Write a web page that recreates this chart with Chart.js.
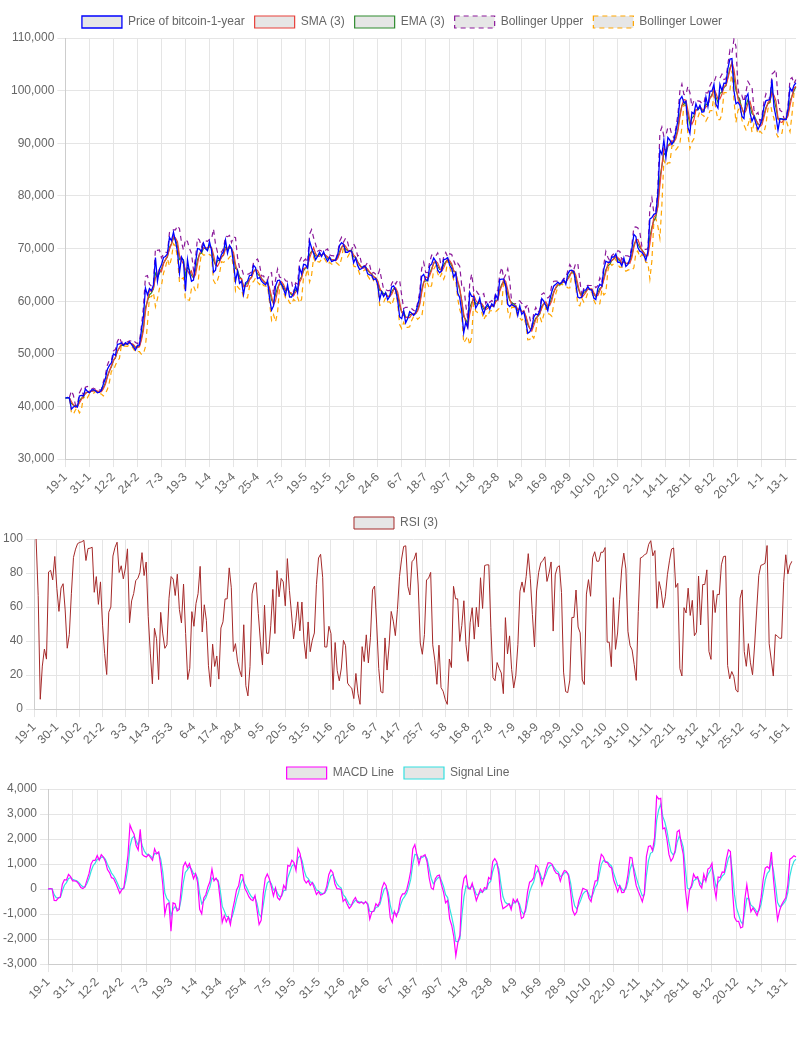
<!DOCTYPE html>
<html><head><meta charset="utf-8">
<script src="https://cdn.jsdelivr.net/npm/chart.js@4/dist/chart.umd.min.js"></script>
<style>body{margin:0;background:#fff;font-family:"Helvetica Neue",Arial,sans-serif}
.c{position:relative;width:810px}</style></head><body>
<div class="c" style="height:505px"><canvas id="a"></canvas></div>
<div class="c" style="height:250px"><canvas id="b"></canvas></div>
<div class="c" style="height:255px"><canvas id="m"></canvas></div>
<script>
const startDate = [2024, 0, 19];
// daily close, thousands USD
const price = [
41.6,41.7,41.6,39.5,39.9,40.1,39.9,42.0,42.1,42.0,43.3,42.9,42.6,
43.1,43.2,43.0,42.6,42.7,43.1,44.3,45.3,47.1,47.8,48.3,50.0,49.7,51.8,51.9,52.1,51.6,52.1,51.8,52.3,51.8,51.3,50.7,51.6,51.7,54.5,57.1,62.5,61.2,
62.4,62.0,63.1,68.3,63.8,66.1,66.9,68.3,68.5,69.0,72.1,71.5,73.1,71.4,69.4,65.3,68.4,67.6,61.9,67.9,65.5,63.8,64.0,67.2,70.0,69.9,69.4,71.0,70.0,69.6,71.3,
69.7,65.5,65.9,68.5,67.8,68.9,69.4,71.6,69.1,70.6,70.0,67.2,63.8,65.7,63.4,63.8,61.3,63.5,63.8,64.9,64.9,66.8,66.4,64.3,64.5,63.8,63.4,63.1,63.8,60.6,
58.3,59.1,62.9,63.9,64.0,63.2,62.3,61.2,63.1,60.8,60.8,61.5,62.9,61.6,66.3,65.2,67.0,66.9,66.3,71.4,70.1,69.1,67.9,68.5,69.3,68.5,69.4,68.3,67.6,68.4,67.5,
67.7,67.8,68.8,70.6,71.1,70.8,69.3,69.3,69.6,69.5,67.3,68.2,66.8,66.0,66.2,66.6,66.5,65.2,65.0,64.9,64.1,64.3,63.2,60.3,61.8,60.9,61.6,60.3,60.9,62.7,
62.9,62.1,60.2,57.0,56.7,58.2,55.9,56.7,58.0,57.7,57.3,57.9,59.2,60.8,64.7,65.1,64.1,63.9,66.7,67.1,68.2,67.6,65.9,65.4,65.8,67.9,68.0,68.3,66.8,66.2,64.6,
65.4,61.5,60.7,58.1,54.0,56.0,55.0,61.7,60.9,60.9,58.7,59.4,60.6,58.7,57.6,58.9,59.5,58.5,59.5,59.0,61.2,60.4,64.1,64.2,64.2,62.8,59.4,59.0,59.4,59.1,58.9,
57.3,59.1,57.5,58.0,56.2,53.9,54.2,54.9,57.0,57.6,57.4,58.1,60.5,60.0,59.2,58.2,60.3,61.8,62.9,63.2,63.6,63.3,63.6,64.1,63.2,65.2,65.8,65.9,65.6,63.3,
60.8,60.6,60.8,62.1,62.1,62.8,62.2,62.1,60.6,60.3,62.4,63.2,62.9,66.1,67.6,67.4,67.4,68.4,68.4,69.0,67.4,67.4,66.7,68.2,66.6,67.0,68.0,69.9,72.7,72.3,70.2,
69.5,69.3,68.7,67.8,69.4,75.6,75.9,76.5,76.7,80.5,88.7,87.9,90.6,87.3,91.1,90.6,89.8,90.5,92.3,94.3,98.3,98.9,97.7,98.0,93.0,91.9,95.9,95.6,97.5,96.4,
97.2,95.9,96.0,98.8,97.0,99.9,99.9,101.2,97.4,96.7,101.2,100.0,101.4,101.4,104.3,106.0,106.1,100.0,97.5,97.8,97.2,95.1,94.7,98.7,99.4,95.8,94.2,95.1,93.7,92.6,93.4,
94.6,96.9,98.1,98.2,98.3,102.1,96.9,95.0,92.5,94.7,94.6,94.5,94.5,96.5,100.5,99.9,101.0,101.5
].map(v=>v*1000);

// label dates as they appear (shifted by one day during summer time)
const dstStart = new Date(2024,2,31), dstEnd = new Date(2024,9,27);
const labels = price.map((_,i)=>{let d=new Date(startDate[0],startDate[1],startDate[2]+i);
  if(d>=dstStart && d<dstEnd) d=new Date(d.getFullYear(),d.getMonth(),d.getDate()+1);
  return d.getDate()+'-'+(d.getMonth()+1);});

const N=3;
const sma = price.map((_,i)=>i<N-1?null:price.slice(i-N+1,i+1).reduce((a,b)=>a+b)/N);
function emaOf(arr,n){const o=[];arr.forEach((p,i)=>o.push(i?p*2/(n+1)+o[i-1]*(1-2/(n+1)):p));return o;}
const ema=emaOf(price,N);
const sd = price.map((_,i)=>{if(i<N-1)return null;const s=price.slice(i-N+1,i+1),m=sma[i];return Math.sqrt(s.reduce((a,b)=>a+(b-m)**2,0)/N);});
const bUp = sma.map((m,i)=>m==null?null:m+2*sd[i]);
const bLo = sma.map((m,i)=>m==null?null:m-2*sd[i]);
// Wilder RSI
const rsi=[];let ag=0,al=0;
price.forEach((p,i)=>{if(i===0){rsi.push(null);return;}const d=p-price[i-1],g=Math.max(d,0),l=Math.max(-d,0);
  if(i===1){ag=g;al=l;}else{ag=(ag*(N-1)+g)/N;al=(al*(N-1)+l)/N;}
  rsi.push(ag+al===0?50:100*ag/(ag+al));});
const eF=emaOf(price,3),eS=emaOf(price,6);
const macd=eF.map((v,i)=>v-eS[i]);
const signal=emaOf(macd,3);

Chart.defaults.font.family='"Helvetica Neue",Arial,sans-serif';
Chart.defaults.font.size=12;
Chart.defaults.color='#666';
const common=(yopt,pad,step)=>({responsive:true,maintainAspectRatio:false,animation:false,
 layout:{padding:pad},
 elements:{point:{radius:0},line:{borderWidth:1.2,tension:0}},
 plugins:{legend:{labels:{boxWidth:40,boxHeight:12}}},
 scales:{x:{ticks:{maxRotation:45,minRotation:45,autoSkip:false,
     callback:(v,i)=>i%step===0?labels[i]:null},
   grid:{color:'#e5e5e5'}},
  y:Object.assign({grid:{color:'#e5e5e5'}},yopt)}});
const fill='rgba(230,230,230,1)';
new Chart(document.getElementById('a'),{type:'line',data:{labels,datasets:[
 {label:'Price of bitcoin-1-year',data:price,borderColor:'#0000ff',backgroundColor:fill,borderWidth:1.3},
 {label:'SMA (3)',data:sma,borderColor:'#e8403a',backgroundColor:fill},
 {label:'EMA (3)',data:ema,borderColor:'#2e8b2e',backgroundColor:fill},
 {label:'Bollinger Upper',data:bUp,borderColor:'#8b1a9a',borderDash:[5,4],backgroundColor:fill},
 {label:'Bollinger Lower',data:bLo,borderColor:'#ffa500',borderDash:[5,4],backgroundColor:fill}
]},options:common({min:30000,max:110000,ticks:{stepSize:10000}},{left:8,right:14,top:6},12)});
new Chart(document.getElementById('b'),{type:'line',data:{labels,datasets:[
 {label:'RSI (3)',data:rsi,borderColor:'#a52a2a',backgroundColor:fill,borderWidth:1}
]},options:common({min:0,max:100,ticks:{stepSize:20}},{right:18,top:2},11)});
new Chart(document.getElementById('m'),{type:'line',data:{labels,datasets:[
 {label:'MACD Line',data:macd,borderColor:'#ff00ff',backgroundColor:fill},
 {label:'Signal Line',data:signal,borderColor:'#33e0e0',backgroundColor:fill}
]},options:common({min:-3000,max:4000,ticks:{stepSize:1000}},{right:14,top:2},12)});
</script></body></html>
